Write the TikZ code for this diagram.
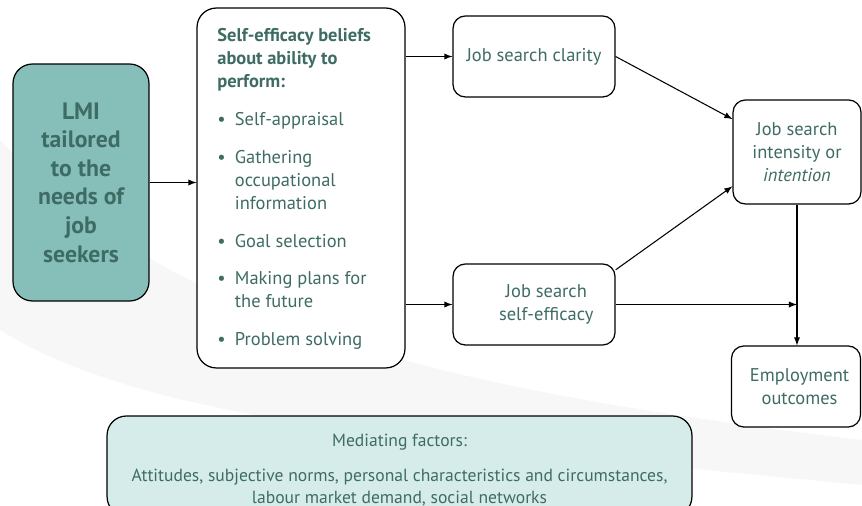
\documentclass[tikz,border=0pt]{standalone}
\usepackage{fontspec}
\setmainfont{PT Sans}
\usetikzlibrary{arrows,positioning}

\definecolor{tekst}{RGB}{62,108,100}
\definecolor{lmiteal}{RGB}{134,190,186}
\definecolor{mediatie}{RGB}{214,236,234}
\newcommand{\blt}{\makebox[10pt][l]{\textbullet}}
\newcommand{\cnt}{\hspace*{10pt}}

\begin{document}
\begin{tikzpicture}[
            x = 0.02cm, y = -0.02cm,
            box/.style = {
                draw, line width = 0.7pt,
                rounded corners = 7pt,
                align = center,
                text = tekst,
                inner sep = 0pt,
                font = \fontsize{10.5}{13}\selectfont,
            },
            pijl/.style = {
                -latex, line width = 0.6pt,
            },
        ]
        \useasboundingbox (0,0) rectangle (862,506);

        % Achtergrond
        \fill[black!3] (0,140) .. controls (180,330) and (450,390) .. (862,440)
            -- (862,485) .. controls (450,445) and (150,425) .. (0,330) -- cycle;

        % Blokken
        \node[box, fill = lmiteal, rounded corners = 11pt, minimum width = 2.72cm,
            minimum height = 4.74cm, font = \fontsize{13.5}{16.3}\selectfont\bfseries]
            (lmi) at (81,182.5) {LMI \\ tailored \\ to the \\ needs of \\ job \\ seekers};
        \node[box, fill = white, rounded corners = 11pt, minimum width = 4.16cm,
            minimum height = 7.2cm] (zelf) at (301,188) {};
        \node[text = tekst, align = left, anchor = north west, inner sep = 0pt,
            font = \fontsize{10.5}{13}\selectfont] (lijst) at (217,28)
            {\textbf{Self-efficacy beliefs} \\ \textbf{about ability to} \\ \textbf{perform:} \\[9pt]
             \blt Self-appraisal \\[8.5pt]
             \blt Gathering \\ \cnt occupational \\ \cnt information \\[8.5pt]
             \blt Goal selection \\[8.5pt]
             \blt Making plans for \\ \cnt the future \\[8.5pt]
             \blt Problem solving};
        \node[box, fill = white, minimum width = 3.24cm, minimum height = 1.62cm]
            (helder) at (534,56.5) {Job search clarity};
        \node[box, fill = white, minimum width = 3.24cm, minimum height = 1.62cm]
            (jsse) at (534,304.5) {\hspace*{14pt}Job search \\ \hspace*{14pt}self-efficacy};
        \node[box, fill = white, minimum width = 2.56cm, minimum height = 2.08cm]
            (intens) at (797,152) {Job search \\ intensity or \\ \textit{intention}};
        \node[box, fill = white, minimum width = 2.58cm, minimum height = 1.62cm]
            (werk) at (796,386.5) {\hspace*{4pt}Employment \\ \hspace*{4pt}outcomes};
        \node[box, fill = mediatie, rounded corners = 11pt, minimum width = 11.7cm,
            minimum height = 2.0cm] (med) at (399.5,466) {};
        \node[text = tekst, align = center, anchor = north, inner sep = 0pt,
            font = \fontsize{10}{12}\selectfont] (medtekst) at (399.5,434)
            {Mediating factors: \\[8pt]
             Attitudes, subjective norms, personal characteristics and circumstances, \\
             labour market demand, social networks};

        % Verbindingen
        \path[pijl]
            (lmi.east) edge (lmi.east -| zelf.west)
            (zelf.east |- helder.west) edge (helder.west)
            (zelf.east |- jsse.west) edge (jsse.west)
            (helder.east) edge (intens.153)
            (jsse.23) edge (intens.208)
            (jsse.east) edge (intens.south |- jsse.east)
            (intens.south) edge (intens.south |- werk.north);

    \end{tikzpicture}
\end{document}
